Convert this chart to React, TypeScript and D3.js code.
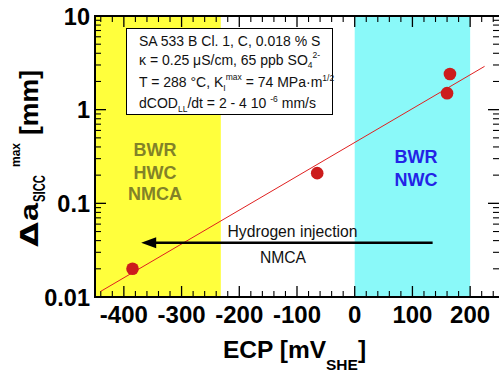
import React from "react";
import * as d3 from "d3";

const pointsECP = [-385, -65, 160, 165];
const pointsDa = [0.02, 0.21, 1.5, 2.4];
const fitECP = [-440, 225];
const fitDa = [0.0115, 2.9];
const xTicks = [-400, -300, -200, -100, 0, 100, 200];
const yTicks = [0.01, 0.1, 1, 10];
const yTickLabels = ["0.01", "0.1", "1", "10"];
const hwcRange = [-450, -232];
const nwcRange = [0, 200];
const arrowECP = [135, -370];
const arrowDa = 0.038;

const W = 499, H = 373;
const L = 95, R = 499, T = 16, B = 297;

export default function App() {
  const x = d3.scaleLinear().domain([-450, 250]).range([L, R]);
  const y = d3.scaleLog().domain([0.01, 10]).range([B, T]);
  const font = "'Liberation Sans', Arial, sans-serif";

  const xMinor: number[] = d3.range(-440, 251, 20).filter(v => v % 100 !== 0);
  const yMinor: number[] = [];
  [0.01, 0.1, 1].forEach(d => { for (let k = 2; k <= 9; k++) yMinor.push(d * k); });

  const ay = y(arrowDa);
  return (
    <svg width={W} height={H} style={{ position: "absolute", left: 0, top: 0 }} fontFamily={font}>
      <defs>
        <clipPath id="pc"><rect x={L} y={T} width={R - L} height={B - T} /></clipPath>
      </defs>
      <rect x={0} y={0} width={W} height={H} fill="#fff" />
      <rect x={x(hwcRange[0])} y={T} width={x(hwcRange[1]) - x(hwcRange[0])} height={B - T} fill="#ffff3c" />
      <rect x={x(nwcRange[0])} y={T} width={x(nwcRange[1]) - x(nwcRange[0])} height={B - T} fill="#8af9f9" />

      {/* ticks */}
      {xTicks.map(v => (
        <g key={"xt" + v}>
          <line x1={x(v)} x2={x(v)} y1={B} y2={B - 11} stroke="#000" strokeWidth={1.3} />
          <line x1={x(v)} x2={x(v)} y1={T} y2={T + 11} stroke="#000" strokeWidth={1.3} />
        </g>
      ))}
      {xMinor.map(v => (
        <g key={"xm" + v}>
          <line x1={x(v)} x2={x(v)} y1={B} y2={B - 6} stroke="#000" strokeWidth={1.1} />
          <line x1={x(v)} x2={x(v)} y1={T} y2={T + 6} stroke="#000" strokeWidth={1.1} />
        </g>
      ))}
      {yTicks.map(v => (
        <g key={"yt" + v}>
          <line x1={L} x2={L + 11} y1={y(v)} y2={y(v)} stroke="#000" strokeWidth={1.3} />
          <line x1={R} x2={R - 11} y1={y(v)} y2={y(v)} stroke="#000" strokeWidth={1.3} />
        </g>
      ))}
      {yMinor.map(v => (
        <g key={"ym" + v}>
          <line x1={L} x2={L + 6} y1={y(v)} y2={y(v)} stroke="#000" strokeWidth={1.1} />
          <line x1={R} x2={R - 6} y1={y(v)} y2={y(v)} stroke="#000" strokeWidth={1.1} />
        </g>
      ))}

      {/* fit line */}
      <line x1={x(fitECP[0])} y1={y(fitDa[0])} x2={x(fitECP[1])} y2={y(fitDa[1])} stroke="#e02020" strokeWidth={1} clipPath="url(#pc)" />

      {/* arrow */}
      <line x1={x(arrowECP[0])} y1={ay} x2={x(arrowECP[1]) + 10} y2={ay} stroke="#000" strokeWidth={2.6} />
      <path d={`M${x(arrowECP[1])},${ay} L${x(arrowECP[1]) + 15},${ay - 5.5} L${x(arrowECP[1]) + 15},${ay + 5.5} Z`} fill="#000" />
      <text x={292.5} y={237} fontSize={15.7} textAnchor="middle" fill="#111">Hydrogen injection</text>
      <text x={283} y={263} fontSize={15.7} textAnchor="middle" fill="#111">NMCA</text>

      {/* points */}
      {pointsECP.map((v, i) => (
        <circle key={"p" + i} cx={x(v)} cy={y(pointsDa[i])} r={6.3} fill="#cc1c1c" />
      ))}

      {/* region labels */}
      <g fontSize={18} fontWeight="bold" fill="#828228" textAnchor="middle">
        <text x={155} y={156}>BWR</text>
        <text x={155} y={179}>HWC</text>
        <text x={155} y={200}>NMCA</text>
      </g>
      <g fontSize={18} fontWeight="bold" fill="#2323e6" textAnchor="middle">
        <text x={416} y={163}>BWR</text>
        <text x={416} y={186}>NWC</text>
      </g>

      {/* info box */}
      <rect x={126.5} y={28.5} width={206} height={86} fill="#fff" stroke="#000" strokeWidth={1} />
      <g fontSize={14} fill="#111">
        <text x={139} y={46}>SA 533 B Cl. 1, C, 0.018 % S</text>
        <text x={139} y={65}>κ = 0.25 μS/cm, 65 ppb SO<tspan fontSize={8.5} dy={3}>4</tspan><tspan fontSize={8.5} dy={-10}>2-</tspan></text>
        <text x={139} y={87}>T = 288 °C, K<tspan fontSize={8.5} dy={4}>I</tspan><tspan fontSize={8.5} dy={-11}>max</tspan><tspan dy={7}> = 74 MPa·m</tspan><tspan fontSize={8.5} dy={-6}>1/2</tspan></text>
        <text x={139} y={108}>dCOD<tspan fontSize={8.5} dy={4}>LL</tspan><tspan dy={-4}>/dt = 2 - 4 10 </tspan><tspan fontSize={8.5} dy={-6}>-6</tspan><tspan dy={6}> mm/s</tspan></text>
      </g>

      {/* frame (right side runs off the picture) */}
      <path d={`M${R + 2},${T} H${L} V${B} H${R + 2}`} fill="none" stroke="#000" strokeWidth={2} />

      {/* tick labels */}
      <g fontWeight="bold" fill="#000">
        {xTicks.map(v => (
          <text key={"xl" + v} x={x(v)} y={B + 26} fontSize={24} textAnchor="middle">{v}</text>
        ))}
        {yTicks.map((v, i) => (
          <text key={"yl" + v} x={L - 5} y={y(v) + 8.5} fontSize={23.5} textAnchor="end">{yTickLabels[i]}</text>
        ))}
      </g>

      {/* axis titles */}
      <text x={223} y={358} fontSize={24.5} fontWeight="bold">ECP [mV<tspan fontSize={15.5} dy={12}>SHE</tspan><tspan dy={-12}>]</tspan></text>
      <g transform="rotate(-90)" fontWeight="bold">
        <text x={-247} y={38} fontSize={25} fontFamily="'DejaVu Sans', sans-serif" textLength={25} lengthAdjust="spacingAndGlyphs">Δ</text>
        <text x={-221} y={38} fontSize={25} textLength={18} lengthAdjust="spacingAndGlyphs">a</text>
        <text x={-202} y={45} fontSize={16} textLength={27} lengthAdjust="spacingAndGlyphs">SICC</text>
        <text x={-167} y={20} fontSize={13} textLength={24} lengthAdjust="spacingAndGlyphs">max</text>
        <text x={-135} y={38} fontSize={25} textLength={65} lengthAdjust="spacingAndGlyphs">[mm]</text>
      </g>
    </svg>
  );
}
